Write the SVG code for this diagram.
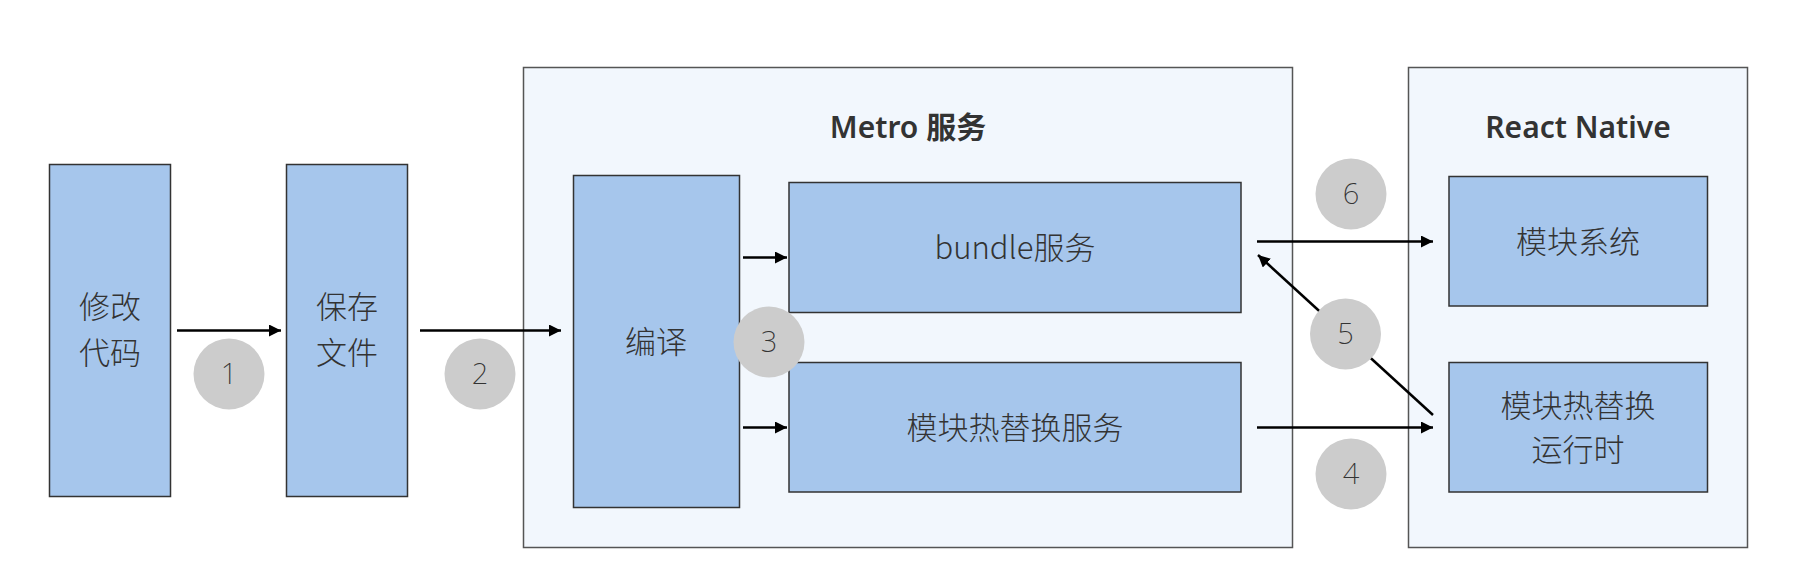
<svg xmlns="http://www.w3.org/2000/svg" width="1813" height="575" viewBox="0 0 1813 575">
<defs>
<style>
.box{fill:#a6c6ec;stroke:#333;stroke-width:1.5}
.grp{fill:#f2f7fd;stroke:#555;stroke-width:1.5}
.t{font-family:"Noto Sans CJK SC","Noto Sans",sans-serif;font-size:31px;font-weight:300;fill:#333;text-anchor:middle}
.title{font-family:"Noto Sans","Noto Sans CJK SC",sans-serif;font-size:30px;font-weight:600;fill:#333;text-anchor:middle}
.num{fill:#cccccc}
.nt{font-family:"Noto Sans","Liberation Sans",sans-serif;font-weight:200;font-size:29px;fill:#333;text-anchor:middle}
.c{stroke:#000;stroke-width:2.5;fill:none;marker-end:url(#ah)}
</style>
<marker id="ah" markerUnits="userSpaceOnUse" markerWidth="14" markerHeight="14" refX="12" refY="6" orient="auto">
<path d="M0,0 L12,6 L0,12 z" fill="#000"/>
</marker>
</defs>
<rect width="1813" height="575" fill="#fff"/>

<g id="metro">
<rect class="grp" x="523.5" y="67.5" width="769" height="480"/>
<text class="title" x="908" y="138">Metro 服务</text>
</g>
<g id="react-native">
<rect class="grp" x="1408.5" y="67.5" width="339" height="480"/>
<text class="title" x="1578" y="138">React Native</text>
</g>

<g id="modify">
<rect class="box" x="49.5" y="164.5" width="121" height="332"/>
<text class="t" x="110" y="318">修改</text>
<text class="t" x="110" y="364">代码</text>
</g>
<g id="save">
<rect class="box" x="286.5" y="164.5" width="121" height="332"/>
<text class="t" x="347" y="318">保存</text>
<text class="t" x="347" y="364">文件</text>
</g>
<g id="compile">
<rect class="box" x="573.5" y="175.5" width="166" height="332"/>
<text class="t" x="656" y="353">编译</text>
</g>
<g id="bundle">
<rect class="box" x="789" y="182.5" width="452" height="130"/>
<text class="t" x="1015" y="259">bundle服务</text>
</g>
<g id="hmr-service">
<rect class="box" x="789" y="362.5" width="452" height="129.5"/>
<text class="t" x="1015" y="439">模块热替换服务</text>
</g>
<g id="module-system">
<rect class="box" x="1449" y="176.5" width="258.5" height="129.5"/>
<text class="t" x="1578" y="253">模块系统</text>
</g>
<g id="hmr-runtime">
<rect class="box" x="1449" y="362.5" width="258.5" height="129.5"/>
<text class="t" x="1578" y="417">模块热替换</text>
<text class="t" x="1578" y="461">运行时</text>
</g>

<g id="connectors">
<line class="c" x1="177" y1="330.5" x2="281" y2="330.5"/>
<line class="c" x1="420" y1="330.5" x2="561" y2="330.5"/>
<line class="c" x1="743" y1="257.5" x2="787" y2="257.5"/>
<line class="c" x1="743" y1="427.5" x2="787" y2="427.5"/>
<line class="c" x1="1257" y1="241.5" x2="1433" y2="241.5"/>
<line class="c" x1="1257" y1="427.5" x2="1433" y2="427.5"/>
<line class="c" x1="1433" y1="415" x2="1258" y2="255"/>
</g>

<g id="step1"><circle class="num" cx="229" cy="374" r="35.5"/><text class="nt" x="229" y="384">1</text></g>
<g id="step2"><circle class="num" cx="480" cy="374" r="35.5"/><text class="nt" x="480" y="384">2</text></g>
<g id="step3"><circle class="num" cx="769" cy="342" r="35.5"/><text class="nt" x="769" y="352">3</text></g>
<g id="step4"><circle class="num" cx="1351" cy="474" r="35.5"/><text class="nt" x="1351" y="484">4</text></g>
<g id="step5"><circle class="num" cx="1345.5" cy="334" r="35.5"/><text class="nt" x="1345.5" y="344">5</text></g>
<g id="step6"><circle class="num" cx="1351" cy="194" r="35.5"/><text class="nt" x="1351" y="204">6</text></g>
</svg>
